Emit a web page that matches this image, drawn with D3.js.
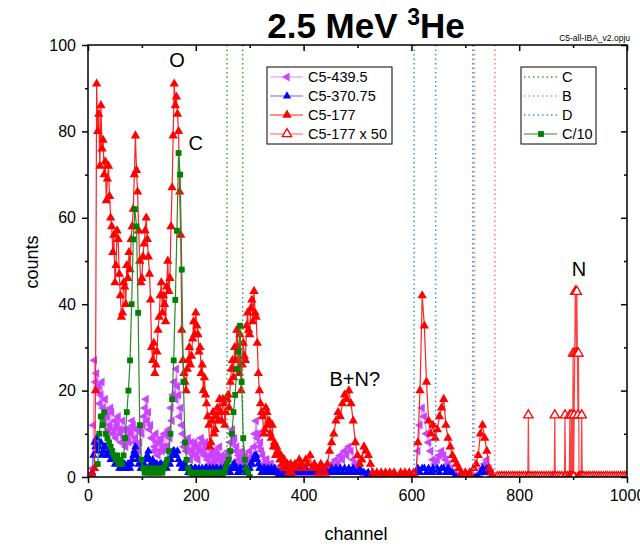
<!DOCTYPE html>
<html>
<head>
<meta charset="utf-8">
<script src="https://cdn.jsdelivr.net/npm/d3@7"></script>
<style>
body { margin: 0; background: #fff; }
svg text { font-family: "Liberation Sans", Arial, sans-serif; }
</style>
</head>
<body>
<svg id="chart" width="640" height="546"></svg>
<script>
// channel grid: every 2nd channel up to 378, then every 4th
const channels = d3.range(0, 380, 2).concat(d3.range(380, 1000, 4));

const c5_439 = [
  0,0,0,0,2,12,27,22,24,20, 21,17,19,22,16,13,18,15,14,11,
  12,16,15,10,11,13,9,12,14,11, 10,8,13,11,9,7,11,9,8,11,
  10,13,12,8,9,11,7,6,8,11, 10,12,14,16,18,13,15,11,12,9,
  9,6,7,10,8,5,6,8,9,6, 7,10,10,7,6,11,9,16,13,19,
  22,18,25,21,19,14,16,12,10,7, 8,6,7,9,6,4,8,6,5,8,
  7,5,4,7,6,9,8,6,5,8, 7,4,5,3,3,5,6,3,4,6,
  5,4,7,4,5,3,3,5,4,3, 6,5,8,10,11,8,9,6,7,4,
  5,3,4,6,3,4,5,3,4,2, 6,3,4,5,7,10,13,9,10,7,
  8,6,5,3,3,4,4,2,2,3, 3,2,2,1,1,2,2,1,1,2,
  1,1,2,1,1,0,1,1,0,1,
  // 380+ every 4th
  1,1,0,1,1,
  1,0,1,1,0,1,1,0,1,0,1,1,2,3,2,4,3,5,4,6,
  5,7,6,4,3,2,1,1,0,1,0,0,0,0,0,0,0,0,0,0,
  0,0,0,0,0,0,0,0,0,0,0,0,1,6,12,16,14,10,8,6,
  4,3,4,5,6,5,4,3,2,1,1,0,0,0,0,0,0,0,0,0,
  0,0,1,2,3,4,2,1,0,0,0,0,0,0,0,0,0,0,0,0,
  0,0,0,0,0,0,0,0,0,0,0,0,0,0,0,0,0,0,0,0,
  0,0,0,0,0,0,0,0,0,0,0,0,0,0,0,0,0,0,0,0,
  0,0,0,0,0,0,0,0,0,0
];

const c5_370 = [
  0,0,0,0,1,5,8,7,9,6, 7,8,8,5,6,7,7,5,5,6,
  6,4,4,5,5,3,3,4,4,2, 3,2,2,3,3,2,2,3,3,2,
  3,4,5,6,7,5,4,3,3,2, 2,3,3,2,4,5,6,4,3,2,
  4,3,2,3,3,2,2,3,3,2, 2,3,3,2,4,3,3,4,5,6,
  6,5,5,6,4,3,3,2,2,3, 3,2,2,1,1,2,2,1,1,2,
  2,1,1,2,1,1,2,1,1,2, 2,1,1,2,1,1,2,1,1,2,
  2,1,1,2,1,1,2,1,1,2, 2,1,1,2,2,3,3,2,2,1,
  1,2,2,1,1,2,2,1,1,2, 2,3,3,4,4,5,5,4,3,2,
  2,1,1,2,2,1,1,2,1,1, 2,1,1,2,1,1,0,1,1,0,
  1,1,0,1,1,0,1,1,1,0,
  // 380+ every 4th
  2,1,1,2,1,
  1,2,1,1,2,1,1,2,1,1,2,1,1,2,1,2,1,2,1,2,
  1,2,1,2,1,1,2,1,1,0,1,0,0,0,0,0,0,0,0,0,
  0,0,0,0,0,0,0,0,0,0,0,0,1,2,1,2,2,1,2,1,
  2,1,2,1,2,2,1,2,1,1,0,0,0,0,0,0,0,0,0,0,
  0,0,1,2,1,2,1,0,0,0,0,0,0,0,0,0,0,0,0,0,
  0,0,0,0,0,0,0,0,0,0,0,0,0,0,0,0,0,0,0,0,
  0,0,0,0,0,0,0,0,0,0,0,0,0,0,0,0,0,0,0,0,
  0,0,0,0,0,0,0,0,0,0
];

const c5_177 = [
  0,0,0,0,0,0,2,20,91,80, 84,72,86,76,78,70,73,64,69,72,
  65,60,58,52,56,45,49,57,55,47, 42,37,38,45,44,40,49,46,52,48,
  55,58,62,70,79,71,66,57,50,45, 46,51,54,57,60,55,51,47,41,30,
  27,31,24,26,29,34,37,42,45,38, 42,40,36,44,50,43,46,58,67,79,
  91,86,88,84,80,66,56,34,27,24, 22,20,25,27,30,26,28,32,36,33,
  38,35,33,29,30,24,26,20,23,19, 17,14,12,7,8,13,15,10,11,14,
  16,13,18,15,13,18,17,12,15,18, 19,16,22,25,27,23,30,27,34,30,
  24,33,20,26,31,28,27,35,38,34, 33,39,41,36,43,38,37,31,24,20,
  17,15,14,10,11,16,15,12,13,10, 9,12,7,8,5,7,6,5,4,5,
  3,2,4,3,2,3,1,2,3,1,
  // 380+ every 4th
  2,3,2,4,3,
  2,4,3,5,2,3,2,1,3,2,1,3,6,8,10,13,15,14,17,19,
  18,20,17,13,8,5,3,4,7,6,5,3,1,0,1,0,1,0,1,0,
  1,0,1,0,0,1,0,1,0,1,0,1,0,8,20,42,35,22,13,10,
  12,9,11,14,16,18,12,9,7,5,4,3,2,1,0,1,0,1,0,2,
  3,5,10,12,9,6,2,1,0,0,0,0,0,0,0,0,0,0,0,0,
  0,0,0,0,0,0,0,0,0,0,0,0,0,0,0,0,0,0,0,0,
  0,0,0,0,0,0,0,0,0,0,0,0,0,0,0,0,0,0,0,0,
  0,0,0,0,0,0,0,0,0,0
];

// C5-177 x 50, only the high channel end
const x50Chan = [
  760,764,768,772,776,780,784,788,792,796,800,804,808,812,
  816,817,818,822,826,830,834,838,842,846,850,854,858,862,
  865,866,867,871,875,879,884,885,886,
  890,893,894,895,896,897,898,899,900,901,902,903,904,905,906,907,908,909,910,911,
  912,914,915,916,917,920,
  924,928,932,936,940,944,948,952,956,960,964,968,972,976,980,984,988,992,996,1000
];
const x50Vals = [
  0,0,0,0,0,0,0,0,0,0,0,0,0,0,
  0,14.3,0,0,0,0,0,0,0,0,0,0,0,0,
  0,14.3,0,0,0,0,0,14.3,0,
  0,0,14.3,0,0,14.3,0,0,28.6,0,14.3,28.6,42.9,42.9,28.6,42.9,28.6,14.3,28.6,0,
  0,0,0,14.3,0,0,
  0,0,0,0,0,0,0,0,0,0,0,0,0,0,0,0,0,0,0,0
];

// C/10 curve
const cTenChan = d3.range(18, 301, 3);
const cTenVals = [
  3,10,14,12,15,10,9,8,7,6,5,4,5,3,4,3,5,9,15,20,
  27,40,55,62,58,38,12,4,2,1,2,1,1,2,1,1,2,1,1,2,
  1,2,3,4,6,10,18,27,41,57,75,70,48,22,8,4,2,1,1,0,
  1,0,1,1,0,1,0,1,1,0,1,0,1,1,0,1,1,0,1,2,
  3,4,6,10,15,19,25,29,35,22,9,4,2,1,0
];

// edge markers
const cEdges = [258, 287];
const bEdges = [717, 755];
const dEdges = [605, 645, 714];

const xMajor = [0, 200, 400, 600, 800, 1000];
const xMinor = [100, 300, 500, 700, 900];
const yMajor = [0, 20, 40, 60, 80, 100];
const yMinor = [10, 30, 50, 70, 90];

const svg = d3.select('#chart');

const pLeft = 88, pRight = 627, pTop = 45, pBottom = 477;
const x = d3.scaleLinear().domain([0, 1000]).range([pLeft, pRight]);
const y = d3.scaleLinear().domain([0, 100]).range([pBottom, pTop]);

svg.append('clipPath').attr('id', 'plotClip')
    .append('rect')
    .attr('x', pLeft).attr('y', pTop)
    .attr('width', pRight - pLeft).attr('height', pBottom - pTop);

const plot = svg.append('g').attr('clip-path', 'url(#plotClip)');

const triangle = d3.symbol().type(d3.symbolTriangle);
const square = d3.symbol().type(d3.symbolSquare);

function drawSeries(chan, vals, o) {
    const pts = chan.map((c, i) => [c, vals[i]]);
    plot.append('path')
        .datum(pts)
        .attr('d', d3.line().x(d => x(d[0])).y(d => y(d[1])))
        .attr('fill', 'none')
        .attr('stroke', o.line)
        .attr('stroke-width', 1.2);
    plot.append('g')
        .selectAll('path')
        .data(pts)
        .join('path')
        .attr('d', o.symbol.size(o.size)())
        .attr('transform', d => `translate(${x(d[0])},${y(d[1])}) rotate(${o.rot || 0})`)
        .attr('fill', o.fill)
        .attr('stroke', o.stroke || 'none')
        .attr('stroke-width', o.strokeWidth || 0);
}

const styles = {
    mag: {line: '#d890ff', fill: '#cc44ff', symbol: triangle, size: 34, rot: -90},
    blue: {line: '#6666ff', fill: '#0000ff', symbol: triangle, size: 30},
    red: {line: '#ff2020', fill: '#ff0000', symbol: triangle, size: 38},
    x50: {line: '#ff4040', fill: '#ffffff', stroke: '#ff0000', strokeWidth: 1.3, symbol: triangle, size: 38},
    green: {line: '#2a8a2a', fill: '#008000', symbol: square, size: 34}
};

drawSeries(channels, c5_439, styles.mag);
drawSeries(channels, c5_370, styles.blue);
drawSeries(channels, c5_177, styles.red);
drawSeries(x50Chan, x50Vals, styles.x50);

// dotted edge lines
const edgeSets = [
    {vals: cEdges, color: '#3aa03a'},
    {vals: bEdges, color: '#ff7a7a'},
    {vals: dEdges, color: '#3d8cf0'}
];
edgeSets.forEach(s => {
    plot.append('g')
        .selectAll('line')
        .data(s.vals)
        .join('line')
        .attr('x1', d => x(d)).attr('x2', d => x(d))
        .attr('y1', pTop).attr('y2', pBottom)
        .attr('stroke', s.color)
        .attr('stroke-width', 1.5)
        .attr('stroke-dasharray', '1.5,3');
});

drawSeries(cTenChan, cTenVals, styles.green);

// axes: ticks outward on left/bottom, inward on top/right
function styleAxis(g) {
    g.selectAll('.domain').remove();
    g.selectAll('line').attr('stroke', '#000').attr('stroke-width', 1.5);
    g.selectAll('text').attr('font-size', 16).attr('fill', '#000')
        .attr('font-family', '"Liberation Sans", Arial, sans-serif');
}

svg.append('g').attr('transform', `translate(0,${pBottom})`)
    .call(d3.axisBottom(x).tickValues(xMajor).tickSize(6).tickPadding(7).tickFormat(d3.format('d')))
    .call(styleAxis);
svg.append('g').attr('transform', `translate(0,${pBottom})`)
    .call(d3.axisBottom(x).tickValues(xMinor).tickSize(3).tickFormat(''))
    .call(styleAxis);
svg.append('g').attr('transform', `translate(${pLeft},0)`)
    .call(d3.axisLeft(y).tickValues(yMajor).tickSize(6).tickPadding(6))
    .call(styleAxis);
svg.append('g').attr('transform', `translate(${pLeft},0)`)
    .call(d3.axisLeft(y).tickValues(yMinor).tickSize(3).tickFormat(''))
    .call(styleAxis);
svg.append('g').attr('transform', `translate(0,${pTop})`)
    .call(d3.axisTop(x).tickValues(xMajor).tickSize(-6).tickFormat(''))
    .call(styleAxis);
svg.append('g').attr('transform', `translate(0,${pTop})`)
    .call(d3.axisTop(x).tickValues(xMinor).tickSize(-3).tickFormat(''))
    .call(styleAxis);
svg.append('g').attr('transform', `translate(${pRight},0)`)
    .call(d3.axisRight(y).tickValues(yMajor).tickSize(-6).tickFormat(''))
    .call(styleAxis);
svg.append('g').attr('transform', `translate(${pRight},0)`)
    .call(d3.axisRight(y).tickValues(yMinor).tickSize(-3).tickFormat(''))
    .call(styleAxis);

svg.append('rect')
    .attr('x', pLeft).attr('y', pTop)
    .attr('width', pRight - pLeft).attr('height', pBottom - pTop)
    .attr('fill', 'none')
    .attr('stroke', '#000')
    .attr('stroke-width', 1.5);

// titles
const title = svg.append('text')
    .attr('x', 366).attr('y', 38)
    .attr('text-anchor', 'middle')
    .attr('font-size', 35)
    .attr('font-weight', 'bold');
title.append('tspan').text('2.5 MeV ');
title.append('tspan').attr('font-size', 23).attr('dy', -13).text('3');
title.append('tspan').attr('dy', 13).text('He');

svg.append('text')
    .attr('x', 630).attr('y', 41)
    .attr('text-anchor', 'end')
    .attr('font-size', 8.5)
    .text('C5-all-IBA_v2.opju');

svg.append('text')
    .attr('transform', 'translate(38,262) rotate(-90)')
    .attr('text-anchor', 'middle')
    .attr('font-size', 18)
    .text('counts');

svg.append('text')
    .attr('x', 356).attr('y', 540)
    .attr('text-anchor', 'middle')
    .attr('font-size', 18)
    .text('channel');

// peak labels
const peakLabels = [
    {t: 'O', c: 165, v: 95},
    {t: 'C', c: 200, v: 75.8},
    {t: 'B+N?', c: 495, v: 21},
    {t: 'N', c: 911, v: 46.5}
];
svg.append('g')
    .selectAll('text')
    .data(peakLabels)
    .join('text')
    .attr('x', d => x(d.c))
    .attr('y', d => y(d.v))
    .attr('text-anchor', 'middle')
    .attr('font-size', 20)
    .text(d => d.t);

// legends
function legendBox(x0, y0, w, entries) {
    const g = svg.append('g');
    g.append('rect')
        .attr('x', x0).attr('y', y0)
        .attr('width', w).attr('height', 77)
        .attr('fill', '#fff')
        .attr('stroke', '#000')
        .attr('stroke-width', 1);
    entries.forEach((e, i) => {
        const ly = y0 + 10 + i * 19;
        g.append('line')
            .attr('x1', x0 + 3).attr('x2', x0 + 36)
            .attr('y1', ly).attr('y2', ly)
            .attr('stroke', e.line)
            .attr('stroke-width', e.dash ? 1.5 : 1.2)
            .attr('stroke-dasharray', e.dash || null);
        if (e.s) {
            g.append('path')
                .attr('d', e.s.symbol.size(e.s.size)())
                .attr('transform', `translate(${x0 + 20},${ly}) rotate(${e.s.rot || 0})`)
                .attr('fill', e.s.fill)
                .attr('stroke', e.s.stroke || 'none')
                .attr('stroke-width', e.s.strokeWidth || 0);
        }
        g.append('text')
            .attr('x', x0 + 41).attr('y', ly + 5)
            .attr('font-size', 14.5)
            .text(e.name);
    });
}

legendBox(267, 67, 125, [
    {name: 'C5-439.5', line: styles.mag.line, s: styles.mag},
    {name: 'C5-370.75', line: styles.blue.line, s: styles.blue},
    {name: 'C5-177', line: styles.red.line, s: styles.red},
    {name: 'C5-177 x 50', line: '#ff5a5a', s: styles.x50}
]);

legendBox(521, 67, 75, [
    {name: 'C', line: '#3aa03a', dash: '1.5,3'},
    {name: 'B', line: '#ff7a7a', dash: '1.5,3'},
    {name: 'D', line: '#3d8cf0', dash: '1.5,3'},
    {name: 'C/10', line: styles.green.line, s: styles.green}
]);
</script>
</body>
</html>
